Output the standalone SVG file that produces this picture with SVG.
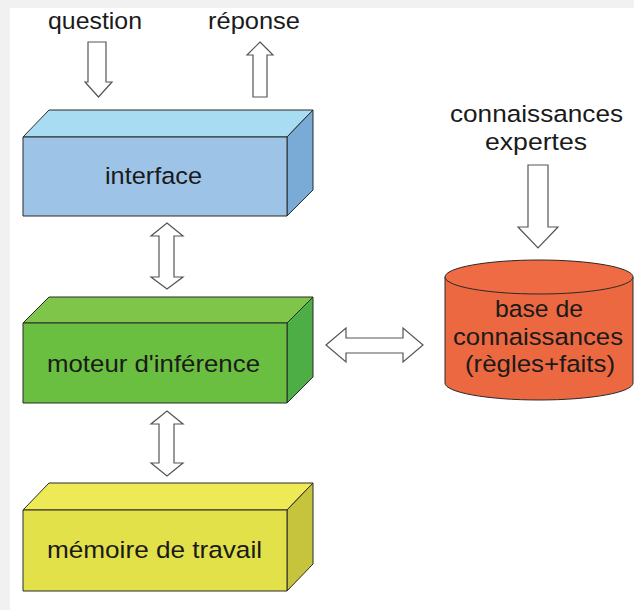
<svg xmlns="http://www.w3.org/2000/svg" width="634" height="610" viewBox="0 0 634 610">
<style>
text{font-family:"Liberation Sans",Arial,sans-serif;font-size:24.5px;fill:#1a1a1a}
.edge{stroke:#2a2a2a;stroke-width:1;stroke-linejoin:round}
.arr{fill:#ffffff;stroke:#555555;stroke-width:1.2;stroke-linejoin:miter}
</style>
<rect x="0" y="0" width="634" height="610" fill="#f1f1f1"/>
<rect x="10" y="8" width="624" height="602" fill="#ffffff"/>
<g id="labels">
<text x="48" y="29" textLength="94" lengthAdjust="spacingAndGlyphs">question</text>
<text x="208" y="29" textLength="92" lengthAdjust="spacingAndGlyphs">réponse</text>
<text x="450" y="122" textLength="173" lengthAdjust="spacingAndGlyphs">connaissances</text>
<text x="485" y="150" textLength="102" lengthAdjust="spacingAndGlyphs">expertes</text>
</g>
<g id="interface">
<polygon class="edge" points="23,137 49,110 313,110 287,137" fill="#a8dcf3"/>
<polygon class="edge" points="287,137 313,110 313,190 287,216" fill="#7aaad6"/>
<rect class="edge" x="23" y="137" width="264" height="79" fill="#9dc4e7"/>
<text x="105" y="184" textLength="97" lengthAdjust="spacingAndGlyphs">interface</text>
</g>
<g id="moteur">
<polygon class="edge" points="23,323 49,297 313,297 287,323" fill="#7ec54a"/>
<polygon class="edge" points="287,323 313,297 313,377 287,403" fill="#4cae45"/>
<rect class="edge" x="23" y="323" width="264" height="80" fill="#6bbf40"/>
<text x="47" y="372" textLength="213" lengthAdjust="spacingAndGlyphs">moteur d'inférence</text>
</g>
<g id="memoire">
<polygon class="edge" points="23,510 49,483 313,483 287,510" fill="#eeea55"/>
<polygon class="edge" points="287,510 313,483 313,564 287,591" fill="#c6c43c"/>
<rect class="edge" x="23" y="510" width="264" height="81" fill="#e2e14a"/>
<text x="47" y="558" textLength="215" lengthAdjust="spacingAndGlyphs">mémoire de travail</text>
</g>
<g id="base">
<path class="edge" d="M445,277 L445,383 A94,17 0 0 0 633,383 L633,277" fill="#ec6840"/>
<ellipse class="edge" cx="539" cy="277" rx="94" ry="17" fill="#ee6b43"/>
<text x="495" y="317" textLength="88" lengthAdjust="spacingAndGlyphs">base de</text>
<text x="453" y="345" textLength="170" lengthAdjust="spacingAndGlyphs">connaissances</text>
<text x="465" y="372" textLength="150" lengthAdjust="spacingAndGlyphs">(règles+faits)</text>
</g>
<g id="connectors">
<polygon class="arr" points="88,42 106,42 106,82 112,82 98.5,97 85,82 88,82"/>
<polygon class="arr" points="260,42 273,55 267,55 267,97 253,97 253,55 247,55"/>
<polygon class="arr" points="528,165 548,165 548,227 558,227 538,248 518,227 528,227"/>
<polygon class="arr" points="167,223 183,236 174,236 174,277 183,277 167,289 151,277 159,277 159,236 151,236"/>
<polygon class="arr" points="167,411 183,424 174,424 174,463 183,463 167,476 151,463 159,463 159,424 151,424"/>
<polygon class="arr" points="326,345 346,328 346,338 403,338 403,328 423,345 403,362 403,353 346,353 346,362"/>
</g>
</svg>
